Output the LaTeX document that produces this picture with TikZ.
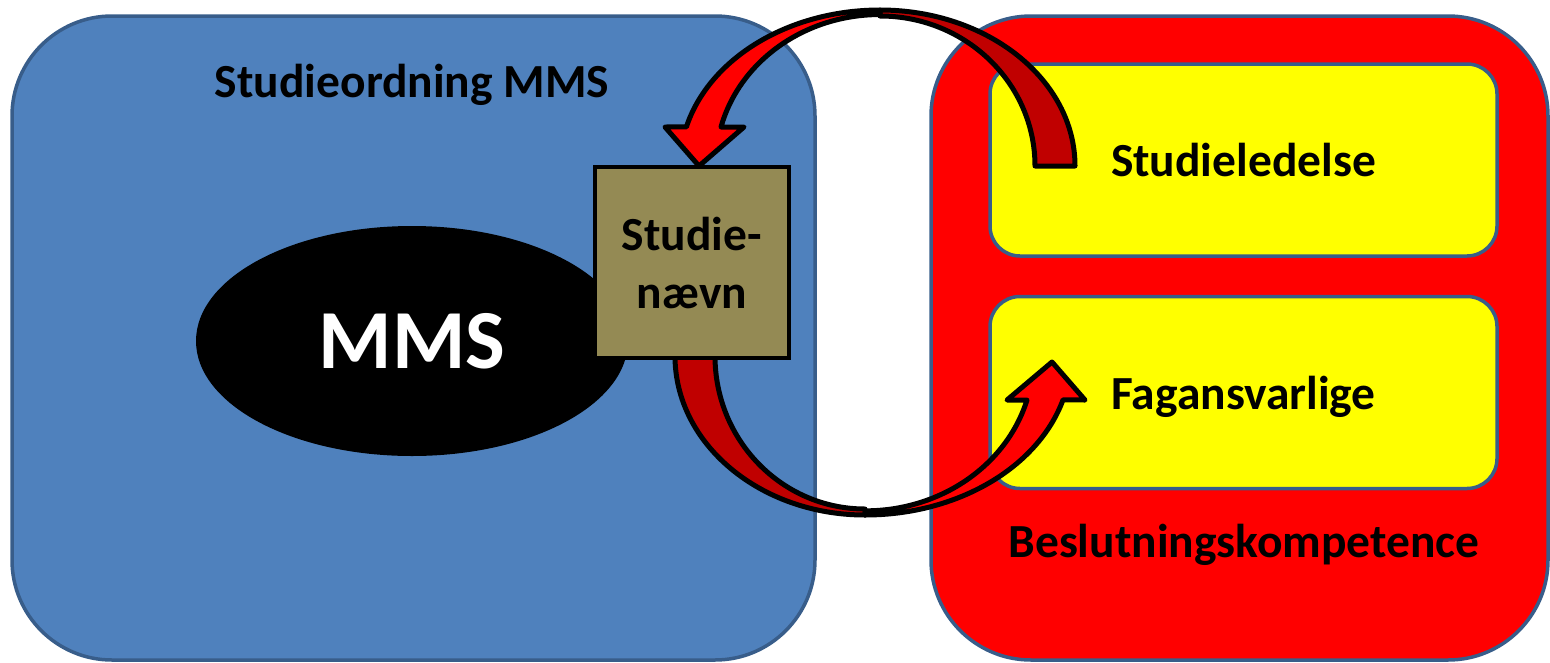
\documentclass[tikz,border=0pt]{standalone}
\usepackage{fontspec}
\setmainfont{Carlito}
\usetikzlibrary{shapes.geometric}
\definecolor{ordningblue}{HTML}{4F81BD}
\definecolor{boxedge}{HTML}{385D8A}
\definecolor{naevnolive}{HTML}{948A54}
\definecolor{backred}{HTML}{C00000}
\definecolor{fagyellow}{HTML}{FFFF00}

\begin{document}
\begin{tikzpicture}[x=1pt, y=-1pt]
	\tikzstyle{every node} = [font=\fontsize{47.5}{58}\selectfont\bfseries, text depth=0pt, inner sep=0pt]
	\tikzstyle{bigbox} = [rectangle, draw=boxedge, line width=3.5pt, rounded corners=100pt, minimum height=644pt]
	\tikzstyle{yellowbox} = [rectangle, draw=boxedge, line width=3.5pt, fill=fagyellow, rounded corners=30pt, minimum width=507pt, minimum height=192pt]
	\tikzstyle{band} = [draw=black, line width=5pt, line join=round]
	\useasboundingbox (0,0) rectangle (1550,662);
	\node[bigbox, fill=ordningblue, minimum width=803pt] (ordning) at (413.5,338) {};
	\node[bigbox, fill=red, minimum width=617pt] (kompetence) at (1239.5,338) {};
	\node[anchor=base] (ordninglabel) at (412,97) {Studieordning MMS};
	\node[anchor=base] (kompetencelabel) at (1244,557) {Beslutningskompetence};
	\node[yellowbox] (ledelse) at (1243.5,160) {Studieledelse};
	\node[yellowbox] (fag) at (1243.5,392.5) {Fagansvarlige};
	\node[ellipse, fill=black, text=white, minimum width=432pt, minimum height=230pt,
		font=\fontsize{84}{100}\selectfont\bfseries] (mms) at (412,341) {MMS};
	% arrow from Studieledelse down onto the board
	\draw[band, fill=backred] (1035,166) -- (1075,166)
		arc[start angle=0, end angle=-90, x radius=195, y radius=156] -- (880,16)
		arc[start angle=270, end angle=360, x radius=155, y radius=150] -- cycle;
	\draw[band, fill=red] (880,10)
		arc[start angle=270, end angle=194.5, x radius=200, y radius=156]
		-- (665,127) -- (699,166) -- (744,127) -- (721,127)
		arc[start angle=194.5, end angle=270, x radius=164, y radius=150] -- cycle;
	% arrow from the board over to Fagansvarlige
	\draw[band, fill=backred] (715,356) -- (675,356)
		arc[start angle=180, end angle=90, x radius=190, y radius=159] -- (865,509)
		arc[start angle=90, end angle=180, x radius=150, y radius=153] -- cycle;
	\draw[band, fill=red] (865,515)
		arc[start angle=90, end angle=16, x radius=206, y radius=159]
		-- (1085,400) -- (1052,362) -- (1007,400) -- (1027,400)
		arc[start angle=16, end angle=90, x radius=168, y radius=153] -- cycle;
	\node[rectangle, draw=black, line width=4pt, fill=naevnolive, minimum width=194pt,
		minimum height=191pt, align=center] (naevn) at (692,262.5) {Studie-\\nævn};
\end{tikzpicture}
\end{document}
